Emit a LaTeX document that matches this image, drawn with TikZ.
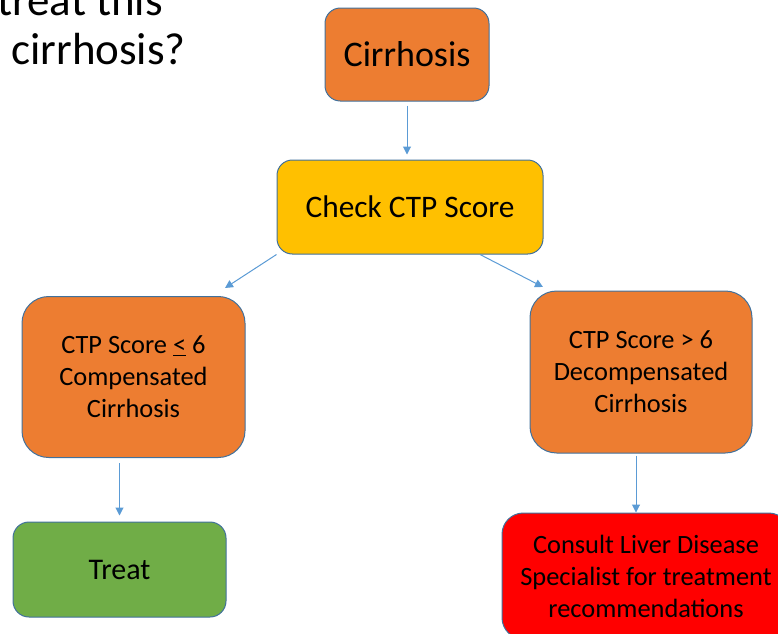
\documentclass[tikz,border=0pt]{standalone}
\usepackage{fontspec}
\setmainfont{Carlito}
\usetikzlibrary{arrows.meta}
\definecolor{boxorange}{HTML}{ED7D31}
\definecolor{boxgold}{HTML}{FFC000}
\definecolor{boxgreen}{HTML}{70AD47}
\definecolor{boxred}{HTML}{FF0000}
\definecolor{boxedge}{HTML}{41719C}
\definecolor{arrowblue}{HTML}{5B9BD5}
\tikzset{
  flowbox/.style={draw=boxedge, line width=0.75pt, inner sep=0pt, align=center,
    font=\fontsize{19.8}{24}\selectfont},
  flowarrow/.style={draw=arrowblue, line width=0.75pt,
    -{Triangle[length=6pt,width=6pt]}}
}
\begin{document}
\begin{tikzpicture}[x=0.75pt,y=-0.75pt]
\useasboundingbox (0,0) rectangle (778,633);
\clip (0,0) rectangle (778,633);

% Define coordinates
\coordinate (ltip) at (225,288);
\coordinate (rtip) at (543,287);

% Title text (cut by the page edge)
\node[anchor=base west, inner sep=0pt, font=\fontsize{33.75}{40}\selectfont] (title1) at (-3,15) {treat this};
\node[anchor=base west, inner sep=0pt, font=\fontsize{33.75}{40}\selectfont] (title2) at (11,64) {cirrhosis?};

% Draw the boxes
\node[flowbox, fill=boxorange, rounded corners=11.5pt, minimum width=123pt, minimum height=69.75pt,
  font=\fontsize{27}{32}\selectfont] (cirrhosis) at (407,54.5) {Cirrhosis};
\node[flowbox, fill=boxgold, rounded corners=11.5pt, minimum width=199.5pt, minimum height=70.5pt,
  font=\fontsize{23.5}{28}\selectfont] (check) at (410,207) {Check CTP Score};
\node[flowbox, fill=boxorange, rounded corners=20pt, minimum width=167.25pt, minimum height=120.75pt]
  (compensated) at (133.5,377) {CTP Score \underline{<} 6\\Compensated\\Cirrhosis};
\node[flowbox, fill=boxorange, rounded corners=20pt, minimum width=166.5pt, minimum height=121.5pt]
  (decompensated) at (641,372) {CTP Score > 6\\Decompensated\\Cirrhosis};
\node[flowbox, fill=boxgreen, rounded corners=12pt, minimum width=159.75pt, minimum height=71.25pt,
  font=\fontsize{22.5}{27}\selectfont] (treat) at (119.5,569.5) {Treat};
\node[flowbox, fill=boxred, rounded corners=16pt, minimum width=216pt, minimum height=94.5pt]
  (consult) at (646,576) {Consult Liver Disease\\Specialist for treatment\\recommendations};

% Draw the arrows
\draw[flowarrow, shorten <=3pt, shorten >=3.75pt] (cirrhosis.south) -- (cirrhosis.south |- check.north);
\draw[flowarrow] (check.south west) -- (ltip);
\draw[flowarrow] ([xshift=52.5pt]check.south) -- (rtip);
\draw[flowarrow, shorten <=3.75pt, shorten >=4.5pt] (treat.north |- compensated.south) -- (treat.north);
\draw[flowarrow, shorten <=1.5pt] ([xshift=-3.75pt]decompensated.south) -- ([xshift=-3.75pt]decompensated.south |- consult.north);

\end{tikzpicture}
\end{document}
